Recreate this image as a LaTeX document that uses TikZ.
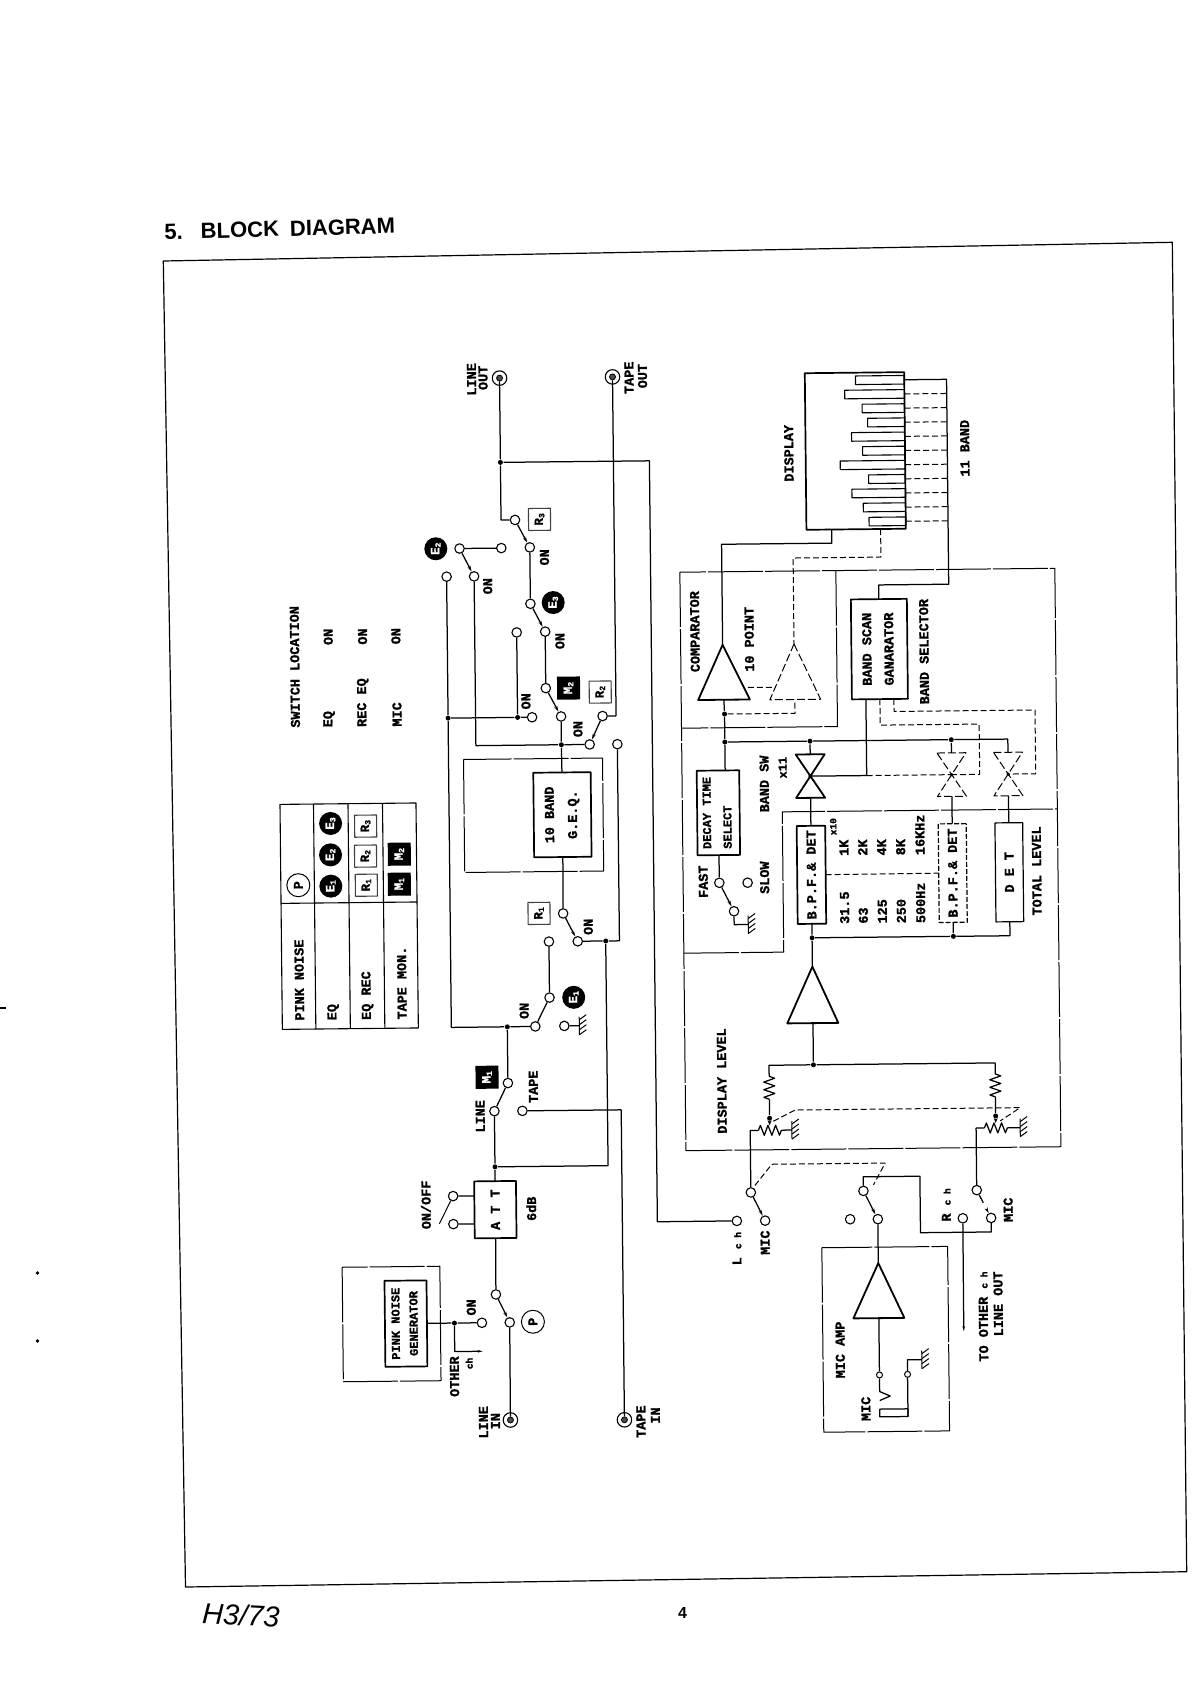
\documentclass[tikz,border=0pt]{standalone}
\usepackage{fontspec}
\usepackage{graphicx}
\setmainfont{Liberation Mono}[BoldFeatures={FakeBold=1.3}]
\newfontfamily\ttlf{Liberation Sans}
\usetikzlibrary{arrows.meta}
\newcommand\lf{\fontsize{13.5}{15}\selectfont\bfseries}
\newcommand\lfs{\fontsize{12}{13.5}\selectfont\bfseries}
\newcommand\lft{\fontsize{9.5}{11}\selectfont\bfseries}
\newcommand\rtx[1]{\rotatebox{90}{#1}}
\newcommand\rtwo[4]{\rotatebox{90}{\begin{tabular}{@{}#1@{}}#3\\[#2]#4\end{tabular}}}
\newcommand\subl[2]{\rotatebox{90}{\fontsize{12.5}{12.5}\selectfont\bfseries #1\raisebox{-1.5pt}{\fontsize{8}{8}\selectfont #2}}}
\newcounter{lb}
\newcommand\tlab[4][]{\stepcounter{lb}\node[lab,#1] (lab\thelb) at (#2,#3) {#4};}
\newcommand\gnd[2]{\draw[line width=1pt] (#1,#2-9) -- (#1,#2+9);
  \foreach \d in {-6,-1,4,9} \draw[line width=1pt] (#1,#2+\d) -- ++(7,-5);}
\newcommand\resv[2]{\draw (#1,#2) -- ++(5.5,2) -- ++(-11,3.8) -- ++(11,3.8) -- ++(-11,3.8) -- ++(11,3.8) -- ++(-11,3.8) -- ++(5.5,2);}
\newcommand\resh[2]{\draw (#1,#2) -- ++(2,-5) -- ++(3.8,10) -- ++(3.8,-10) -- ++(3.8,10) -- ++(3.8,-10) -- ++(3.8,10) -- ++(2,-5);}
\newcommand\gate[2][]{\draw[#1] (#2-14.5,755.5) -- (#2+14.5,755.5) -- (#2-14.5,799) -- (#2+14.5,799) -- cycle;}
\begin{document}
\begin{tikzpicture}[x=1pt,y=-1pt,line width=1.25pt,line join=round,
  term/.style={circle,draw,fill=white,inner sep=0pt,minimum size=9.5pt,line width=1.1pt},
  sterm/.style={circle,draw,fill=white,inner sep=0pt,minimum size=6pt,line width=1pt},
  junc/.style={circle,fill=black,inner sep=0pt,minimum size=5pt},
  jack/.style={circle,draw,fill=white,inner sep=0pt,minimum size=14.5pt,line width=1.1pt},
  jdot/.style={circle,draw,fill=black!70,inner sep=0pt,minimum size=6pt,line width=.8pt},
  box/.style={draw,rectangle,inner sep=0pt,outer sep=0pt,line width=1.7pt,font=\lf},
  lab/.style={rotate=90,inner sep=0pt,font=\lf},
  ecirc/.style={circle,fill=black,text=white,inner sep=0pt,minimum size=23pt},
  pcirc/.style={circle,draw,inner sep=0pt,minimum size=23pt,line width=1pt,font=\lf},
  mbox/.style={rectangle,fill=black,text=white,inner sep=0pt,minimum size=23pt},
  rbox/.style={rectangle,draw=black!75,inner sep=0pt,minimum size=22pt,line width=1.1pt},
  arm/.style={-{Stealth[length=6pt,width=3.2pt]}},
  ctrl/.style={dash pattern=on 6pt off 3pt,line width=1pt},
  frm/.style={dash pattern=on 55pt off 2pt,line width=1pt},
  tri/.style={line width=1.8pt},
  dtri/.style={dash pattern=on 8pt off 3pt,line width=1pt}]
\useasboundingbox (0,0) rectangle (1191,1683);
% page furniture
\node[anchor=base west,rotate=1.5,inner sep=0pt,font=\ttlf\fontsize{22}{24}\selectfont\bfseries] (title) at (164,239.5) {5.\hspace{18pt}BLOCK\hspace{11pt}DIAGRAM};
\draw[line width=1.2pt] (163.3,261) -- (1172.3,242.3) -- (1186.7,1571.7) -- (185.5,1587) -- cycle;
\node[font=\ttlf\fontsize{16}{18}\selectfont\bfseries,inner sep=0pt] (pageno) at (682.5,1613) {4};
\node[font=\ttlf\fontsize{29}{30}\selectfont\itshape,inner sep=0pt,rotate=-3] (hand) at (241,1615) {H3/73};
\fill (37.5,1273) circle (1.8);
\fill (37.5,1341) circle (1.8);
\draw (0,1008) -- (6,1008);
\begin{scope}[rotate around={0.6:(700,900)},every node/.append style={transform shape}]
% -------- switch location
\tlab[anchor=west]{297.3}{724}{SWITCH LOCATION}
\tlab[anchor=west]{331}{724}{EQ}
\tlab[anchor=west]{365}{724}{REC EQ}
\tlab[anchor=west]{399}{724}{MIC}
\tlab{331}{633}{ON}
\tlab{365.3}{633}{ON}
\tlab{398.6}{633}{ON}
% -------- table
\draw[line width=1.1pt] (281,800) rectangle (417,1025);
\draw[line width=1.1pt] (314.5,800) -- (314.5,1025) (349,800) -- (349,1025) (383.5,800) -- (383.5,1025) (281,899) -- (417,899);
\node[pcirc] (tp) at (298.5,881) {\rtx{P}};
\node[ecirc] (te1) at (331,882.3) {\subl{E}{1}};
\node[ecirc] (te2) at (331,851) {\subl{E}{2}};
\node[ecirc] (te3) at (331.4,819.6) {\subl{E}{3}};
\node[rbox] (tr1) at (366.5,881.7) {\subl{R}{1}};
\node[rbox] (tr2) at (366,852.6) {\subl{R}{2}};
\node[rbox] (tr3) at (366.4,822.6) {\subl{R}{3}};
\node[mbox] (tm1) at (399.5,881) {\subl{M}{1}};
\node[mbox] (tm2) at (399.8,851) {\subl{M}{2}};
\tlab[anchor=west]{298.5}{1017}{PINK NOISE}
\tlab[anchor=west]{332}{1017}{EQ}
\tlab[anchor=west]{366.4}{1017}{EQ REC}
\tlab[anchor=west]{401}{1017}{TAPE MON.}
% -------- jacks
\node[jack] (linj) at (505,1418) {}; \node[jdot] (lind) at (505,1418) {};
\node[jack] (loutj) at (505,376) {}; \node[jdot] (loutd) at (505,376) {};
\node[jack] (toutj) at (618,376) {}; \node[jdot] (toutd) at (618,376) {};
\node[jack] (tinj) at (619,1419) {}; \node[jdot] (tind) at (619,1419) {};
\tlab{477}{377}{LINE}\tlab{488.5}{375.6}{OUT}
\tlab{634.5}{377}{TAPE}\tlab{648}{375.5}{OUT}
\tlab{478}{1420}{LINE}\tlab{490}{1419}{IN}
\tlab{635.5}{1421}{TAPE}\tlab{650}{1415}{IN}
% -------- upper signal path nodes
\node[junc] (j1) at (505,460.3) {};
\node[term] (r3a) at (519,518) {};
\node[term] (r3on) at (533.5,545.6) {};
\node[term] (e2a) at (463.2,546) {};
\node[term] (e2t) at (505,546) {};
\node[term] (e2on) at (477.5,574) {};
\node[term] (e2op) at (450,574) {};
\node[term] (e3a) at (533.5,602) {};
\node[term] (e3on) at (548,630) {};
\node[term] (iop) at (519.5,630.5) {};
\node[term] (m2a) at (548,686.5) {};
\node[term] (m2on) at (563,715) {};
\node[term] (ion) at (534,715.5) {};
\node[junc] (j6) at (450,715.5) {};
\node[junc] (j8) at (519.5,715.5) {};
\node[junc] (j7) at (563,743.3) {};
\node[term] (r2on) at (591.3,743.3) {};
\node[term] (r2b) at (604.5,715) {};
\node[term] (r2op) at (619,743.3) {};
\node[box,minimum width=57.4pt,minimum height=84.6pt] (geq) at (563.3,813.3) {\rtwo{c}{8pt}{10 BAND}{G.E.Q.}};
\node[term] (r1a) at (563,912) {};
\node[term] (r1on) at (577.3,940) {};
\node[junc] (j5) at (605.3,940) {};
\node[term] (e1t) at (548.5,940) {};
\node[term] (e1a) at (548.5,996) {};
\node[term] (e1on) at (534,1024.7) {};
\node[term] (e1g) at (563,1024.5) {};
\node[junc] (j4) at (506,1024.8) {};
\node[term] (mtop) at (506,1081) {};
\node[term] (mline) at (492.2,1109) {};
\node[term] (mtape) at (520.2,1109) {};
\node[junc] (j2) at (492.2,1164.7) {};
\node[box,minimum width=41.8pt,minimum height=57pt] (att) at (492.1,1207.5) {\rtx{A T T}};
\node[term] (oo1) at (450,1193.5) {};
\node[term] (oo2) at (450,1221.5) {};
\coordinate (ooend) at (436,1221);
\node[term] (spa) at (491.8,1292.3) {};
\node[term] (spb) at (505.3,1320.4) {};
\node[term] (pon) at (477.5,1320.5) {};
\node[junc] (j9) at (450,1320.5) {};
\node[box,minimum width=42pt,minimum height=86pt,font=\lfs] (pn) at (401.5,1320.5) {\rtwo{c}{4.5pt}{PINK NOISE}{GENERATOR}};
\coordinate (oarr) at (478,1349);
% switch labels
\node[rbox] (lr3) at (543.5,517.7) {\subl{R}{3}};
\node[rbox] (lr2) at (602.4,691) {\subl{R}{2}};
\node[rbox] (lr1) at (538.9,911.7) {\subl{R}{1}};
\node[ecirc] (le2) at (439.5,546) {\subl{E}{2}};
\node[ecirc] (le3) at (556.3,601) {\subl{E}{3}};
\node[ecirc] (le1) at (572.7,996) {\subl{E}{1}};
\node[mbox] (lm2) at (570.8,686.7) {\subl{M}{2}};
\node[mbox] (lm1) at (485.2,1075) {\subl{M}{1}};
\node[pcirc] (lp) at (528.5,1320) {\rtx{P}};
\tlab{548}{555.7}{ON}\tlab{491}{584}{ON}\tlab{562.6}{639.6}{ON}\tlab{528}{699.5}{ON}
\tlab{579.7}{727.8}{ON}\tlab{588}{925.6}{ON}\tlab{523}{1009}{ON}\tlab{467}{1305}{ON}
\tlab{478}{1114}{LINE}\tlab{531.4}{1085}{TAPE}
\tlab{422.6}{1202}{ON/OFF}\tlab{528}{1207}{6dB}
\tlab{449.5}{1374}{OTHER}\tlab[font=\lft]{464.4}{1361}{ch}
% upper connectors
\draw (loutd) -- (j1) -- (505,518) -- (r3a);
\draw[arm] (r3a) -- (r3on);
\draw (r3on) -- (e3a);
\draw[arm] (e3a) -- (e3on);
\draw (e3on) -- (m2a);
\draw[arm] (m2a) -- (m2on);
\draw (m2on) -- (j7);
\draw (j7) -- (geq.north);
\draw (j7) -- (477.5,743.3) -- (e2on);
\draw[arm] (e2a) -- (e2on);
\draw (e2a) -- (e2t);
\draw (j7) -- (r2on);
\draw[arm] (r2b) -- (r2on);
\draw (r2b) -- (618,715);
\draw (toutd) -- (618,715);
\draw (e2op) -- (j6) -- (j8) -- (ion);
\draw (j8) -- (iop);
\draw (r2op) -- (619,940) -- (j5) -- (r1on);
\draw (geq.south) -- (r1a);
\draw[arm] (r1a) -- (r1on);
\draw (e1t) -- (e1a);
\draw (e1a) -- (e1on);
\draw (e1on) -- (j4) -- (450,1024.8) -- (j6);
\draw (e1g) -- (578,1024.5); \gnd{578}{1024.5}
\draw (j4) -- (mtop);
\draw (mtop) -- (mline);
\draw (mline) -- (j2) -- (att.north);
\draw (j2) -- (605.3,1164.7) -- (j5);
\draw (mtape) -- (619,1109) -- (tind);
\draw (att.south) -- (spa);
\draw[arm] (spa) -- (spb);
\draw (spb) -- (lind);
\draw (oo1) -- (471.2,1193.5);
\draw (oo2) -- (471.2,1221.5);
\draw[line width=1pt] (oo1) -- (ooend);
\draw (pn.east) -- (j9) -- (pon);
\draw[-{Stealth[length=5pt,width=2.5pt]}] (j9) -- (450,1349) -- (oarr);
\draw (j1) -- (654,460.3) -- (654,1221.3);
\draw[frm] (465,757) rectangle (604,870);
\draw[frm] (338.3,1263.5) rectangle (436,1378);
% -------- display
\node[box,minimum width=99.4pt,minimum height=156.6pt] (disp) at (860,452.6) {};
\foreach \l [count=\i] in {860.9,850,867.3,872.6,856.4,867.3,844.8,873,856.2,867.4,873}{
  \draw[line width=1.1pt] (\l,381.9+14.15*\i-14.15-4.3) rectangle (909.7,381.9+14.15*\i-14.15+4.3);
}
\foreach \i in {2,...,11}{
  \draw[ctrl] (909.7,381.9+14.15*\i-14.15) -- (952,381.9+14.15*\i-14.15);
}
\tlab{793.5}{454.2}{DISPLAY}\tlab{969.5}{451}{11 BAND}
\node[box,minimum width=56pt,minimum height=100pt] (bs) at (882,651) {\rtwo{c}{7pt}{BAND SCAN}{GANARATOR}};
\draw (909.7,381.9) -- (952,381.9) -- (952,586.8) -- (882,586.8) -- (bs.north);
\coordinate (d1) at (835.6,531);
\coordinate (d2) at (884.5,531);
\coordinate (cmpa) at (725.3,645);
\coordinate (cmpb) at (726,700);
\coordinate (dcmpa) at (796.7,645);
\coordinate (dcmpb) at (797,700.5);
\draw (d1) -- (835.6,544.5) -- (725.3,544.5) -- (cmpa);
\draw[ctrl] (d2) -- (884.5,559) -- (796.7,559) -- (dcmpa);
\draw[tri] (cmpa) -- (752,700) -- (700.3,700) -- cycle;
\draw[dtri] (dcmpa) -- (822.7,700.5) -- (772,700.5) -- cycle;
\draw[ctrl] (750,688) -- (775,688);
\node[junc] (j10) at (726.5,714.3) {};
\node[junc] (j11) at (726.5,742.3) {};
\node[junc] (j12) at (811.7,742.3) {};
\node[junc] (j13) at (953,742.3) {};
\draw (cmpb) -- (j10) -- (j11);
\draw[ctrl] (j10) -- (797,714.3) -- (dcmpb);
\node[box,font=\lfs,minimum width=42.5pt,minimum height=84.6pt] (decay) at (719.3,813) {\rtwo{l}{7pt}{DECAY TIME}{SELECT}};
\draw (j11) -- (726.5,770.7);
\draw (j11) -- (j12) -- (j13) -- (1009.5,742.3) -- (1009.5,755.5);
\draw (j12) -- (811.7,755.5);
\draw (j13) -- (953,755.5);
\gate[tri]{811.7}
\gate[dtri]{953}
\gate[dtri]{1009.5}
\coordinate (g1c) at (811.7,777.3);
\coordinate (g2c) at (953,777.3);
\coordinate (g3c) at (1009.5,777.3);
\draw (868,701) -- (868,777.3) -- (g1c);
\draw[ctrl] (868,777.3) -- (g2c);
\draw[ctrl] (882,701) -- (882,727) -- (981,727) -- (981,777.3) -- (g2c);
\draw[ctrl] (896,701) -- (896,713.5) -- (1037,713.5) -- (1037,777.3) -- (g3c);
\fill (g1c) circle (2);
\fill (g2c) circle (1.8);
\fill (g3c) circle (1.8);
\node[box,minimum width=28.5pt,minimum height=98pt] (bpf1) at (811.7,876) {\rtx{B.P.F.\& DET}};
\node[box,dash pattern=on 5pt off 2pt,line width=1.2pt,minimum width=28pt,minimum height=98.6pt] (bpf2) at (953,875.7) {\rtx{B.P.F.\& DET}};
\node[box,line width=1.2pt,minimum width=27.7pt,minimum height=99pt] (det) at (1009.6,875.5) {\rtx{D E T}};
\draw (811.7,799) -- (bpf1.north);
\draw (953,799) -- (bpf2.north);
\draw (1009.5,799) -- (det.north);
\draw[ctrl] (bpf1.east) -- (bpf2.west);
\node[junc] (j14) at (811.7,939) {};
\node[junc] (j15) at (953,939) {};
\draw (bpf1.south) -- (j14);
\draw (j14) -- (j15) -- (1009.6,939) -- (det.south);
\draw (j15) -- (bpf2.south);
\coordinate (amp1a) at (811.7,967.8);
\coordinate (amp1b) at (811.7,1024.3);
\draw[tri] (amp1a) -- (837,1024.3) -- (786,1024.3) -- cycle;
\draw (j14) -- (amp1a);
\node[junc] (j16) at (811.7,1066) {};
\draw (amp1b) -- (j16);
\node[junc] (j17) at (767.3,1119) {};
\node[junc] (j18) at (993.4,1119) {};
\draw (767.3,1077) -- (767.3,1066) -- (j16) -- (993.4,1066) -- (993.4,1077);
\resv{767.3}{1077}
\resv{993.4}{1077}
\draw (767.3,1100) -- (j17);
\draw (993.4,1100) -- (j18);
\draw[-{Stealth[length=5pt,width=4pt]}] (j17) -- (767.3,1126);
\draw[-{Stealth[length=5pt,width=4pt]}] (j18) -- (993.4,1126);
\resh{756}{1131}
\resh{982}{1131}
\draw (779,1131) -- (789.5,1131); \gnd{789.5}{1131}
\draw (1005,1131) -- (1017.8,1131); \gnd{1017.8}{1131}
\draw[ctrl] (771,1122) -- (793,1111) -- (1018,1111) -- (998,1124);
% decay switch
\node[term] (fa) at (719.5,883) {};
\node[term] (fb) at (733.9,911.6) {};
\node[term] (fs) at (747.8,883.2) {};
\draw (decay.south -| fa) -- (fa);
\draw[arm] (fa) -- (fb);
\draw (fb) -- (733.9,925) -- (748,925); \gnd{748}{925}
% labels right
\tlab{697.7}{631.6}{COMPARATOR}\tlab{752}{639.8}{10 POINT}
\tlab{926.7}{654}{BAND SELECTOR}
\tlab{703.5}{881.7}{FAST}\tlab{764.8}{878.3}{SLOW}
\tlab{765.5}{784.6}{BAND SW}\tlab[font=\lfs]{784}{768.5}{x11}
\tlab[font=\lft]{834}{828}{x10}
\foreach \nm/\px in {1K/844.5,2K/863.2,4K/882.2,8K/901.2,16KHz/920.6}{\tlab[anchor=west]{\px}{858}{\nm}}
\foreach \nm/\px in {31.5/844.5,63/863.2,125/882.2,250/901.2,500Hz/920.6}{\tlab[anchor=west]{\px}{926}{\nm}}
\tlab{1037}{874.4}{TOTAL LEVEL}
\tlab{719.9}{1081.2}{DISPLAY LEVEL}
% frames right
\draw[frm] (683.3,572) rectangle (1058.3,1150.5);
\draw[frm] (839.3,572) -- (839.3,728) -- (683.3,728);
\draw[frm] (683.3,953) -- (783.2,953) -- (783.2,812.7) -- (1058.3,812.7);
% -------- mic inputs
\node[term] (lpole) at (747.8,1193) {};
\node[term] (lmic) at (761.8,1221.3) {};
\node[term] (lch) at (733.5,1221.3) {};
\node[term] (rpole) at (973.7,1193) {};
\node[term] (rmic) at (987.8,1221) {};
\node[term] (rch) at (959.5,1221) {};
\node[term] (mpole) at (860.4,1192.6) {};
\node[term] (mon) at (874.5,1221) {};
\node[term] (mop) at (846.8,1220.8) {};
\draw (654,1221.3) -- (lch);
\draw (lpole) -- (747.8,1131) -- (756,1131);
\draw (rpole) -- (973.7,1131) -- (982,1131);
\draw[arm] (lpole) -- (lmic);
\draw[arm] (mpole) -- (mon);
\draw[arm,dash pattern=on 9pt off 7pt on 40pt] (rpole) -- (rmic);
\draw (mpole) -- (860.4,1178.5) -- (917,1178.5) -- (917,1235) -- (987.8,1235) -- (rmic);
\coordinate (toother) at (959.3,1334);
\draw[-{Stealth[length=5pt,width=2.5pt]}] (rch) -- (toother);
\draw[ctrl] (752,1186) -- (769,1165) -- (882.4,1165) -- (870.5,1186.7);
\tlab{733.2}{1249}{L {\lft c h}}\tlab{761.6}{1243.3}{MIC}\tlab{943}{1207.5}{R {\lft c h}}\tlab{1005}{1213}{MIC}
\tlab{979}{1319.5}{TO OTHER {\lft c h}}\tlab{994}{1307}{LINE OUT}
% mic amp
\draw[frm] (818.2,1249) rectangle (944,1433.5);
\coordinate (amp2a) at (874.5,1265);
\coordinate (amp2b) at (874.5,1320);
\draw[tri] (amp2a) -- (900,1320) -- (849,1320) -- cycle;
\draw (mon) -- (amp2a);
\node[sterm] (jt1) at (874.5,1376.8) {};
\node[sterm] (jt2) at (902.6,1376.5) {};
\draw (amp2b) -- (jt1);
\draw (jt1) -- (874.5,1393.4) -- (885,1398) -- (874.5,1402.4);
\draw (874.4,1411) rectangle (902.6,1418.7);
\draw (jt2) -- (902.6,1418.7);
\draw (jt2) -- (902.6,1362) -- (917,1362); \gnd{917}{1362}
\tlab{860.6}{1410.6}{MIC}\tlab{835.5}{1351.4}{MIC AMP}
\end{scope}
\end{tikzpicture}
\end{document}
